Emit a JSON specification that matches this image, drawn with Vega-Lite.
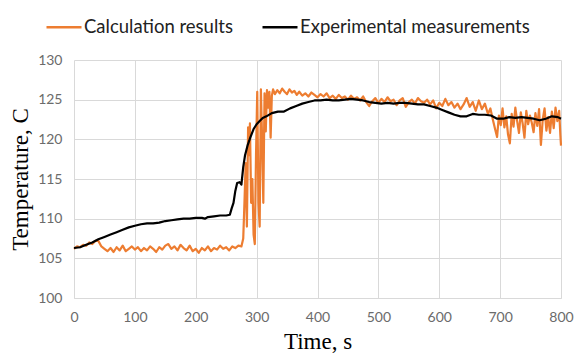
{
  "$schema": "https://vega.github.io/schema/vega-lite/v6.json",
  "width": 487,
  "height": 238,
  "autosize": "none",
  "padding": {"left": 74, "top": 60, "right": 13, "bottom": 56},
  "background": "white",
  "config": {
    "view": {"stroke": null},
    "axis": {
      "gridColor": "#d9d9d9",
      "gridWidth": 1,
      "domainColor": "#d9d9d9",
      "ticks": false,
      "labelFont": "Lato",
      "labelFontSize": 14,
      "labelColor": "#6b6b6b",
      "titleFont": "Liberation Serif",
      "titleFontWeight": "normal",
      "titleFontSize": 23,
      "titleColor": "#000000"
    },
    "legend": {
      "labelFont": "Lato",
      "labelFontSize": 18.5,
      "labelColor": "#222222",
      "labelLimit": 400
    }
  },
  "data": {
    "values": [
      {"series":"Calculation results","t":0,"T":106.2},{"series":"Calculation results","t":5,"T":106.5},{"series":"Calculation results","t":10,"T":106.4},{"series":"Calculation results","t":15,"T":106.7},{"series":"Calculation results","t":20,"T":106.6},{"series":"Calculation results","t":25,"T":107.0},{"series":"Calculation results","t":30,"T":106.8},{"series":"Calculation results","t":35,"T":107.2},{"series":"Calculation results","t":40,"T":107.2},{"series":"Calculation results","t":45,"T":106.5},{"series":"Calculation results","t":50,"T":106.2},{"series":"Calculation results","t":55,"T":105.9},{"series":"Calculation results","t":60,"T":106.3},{"series":"Calculation results","t":65,"T":105.8},{"series":"Calculation results","t":70,"T":106.4},{"series":"Calculation results","t":75,"T":106.0},{"series":"Calculation results","t":80,"T":106.6},{"series":"Calculation results","t":85,"T":105.9},{"series":"Calculation results","t":90,"T":106.2},{"series":"Calculation results","t":95,"T":106.5},{"series":"Calculation results","t":100,"T":106.1},{"series":"Calculation results","t":105,"T":106.4},{"series":"Calculation results","t":110,"T":105.9},{"series":"Calculation results","t":115,"T":106.3},{"series":"Calculation results","t":120,"T":106.0},{"series":"Calculation results","t":125,"T":106.5},{"series":"Calculation results","t":130,"T":106.2},{"series":"Calculation results","t":135,"T":105.8},{"series":"Calculation results","t":140,"T":106.4},{"series":"Calculation results","t":145,"T":106.1},{"series":"Calculation results","t":150,"T":106.6},{"series":"Calculation results","t":155,"T":106.8},{"series":"Calculation results","t":160,"T":106.2},{"series":"Calculation results","t":165,"T":106.5},{"series":"Calculation results","t":170,"T":106.0},{"series":"Calculation results","t":175,"T":106.7},{"series":"Calculation results","t":180,"T":106.3},{"series":"Calculation results","t":185,"T":106.0},{"series":"Calculation results","t":190,"T":106.6},{"series":"Calculation results","t":195,"T":105.9},{"series":"Calculation results","t":200,"T":106.2},{"series":"Calculation results","t":205,"T":105.7},{"series":"Calculation results","t":210,"T":106.3},{"series":"Calculation results","t":215,"T":106.0},{"series":"Calculation results","t":220,"T":106.5},{"series":"Calculation results","t":225,"T":105.9},{"series":"Calculation results","t":230,"T":106.3},{"series":"Calculation results","t":235,"T":106.1},{"series":"Calculation results","t":240,"T":106.6},{"series":"Calculation results","t":245,"T":106.2},{"series":"Calculation results","t":250,"T":106.4},{"series":"Calculation results","t":255,"T":106.0},{"series":"Calculation results","t":260,"T":106.5},{"series":"Calculation results","t":265,"T":106.3},{"series":"Calculation results","t":270,"T":106.6},{"series":"Calculation results","t":275,"T":106.5},{"series":"Calculation results","t":278,"T":107.5},{"series":"Calculation results","t":280,"T":112},{"series":"Calculation results","t":282,"T":117},{"series":"Calculation results","t":284,"T":109},{"series":"Calculation results","t":286,"T":121.5},{"series":"Calculation results","t":288,"T":118},{"series":"Calculation results","t":289,"T":122},{"series":"Calculation results","t":291,"T":112},{"series":"Calculation results","t":293,"T":115},{"series":"Calculation results","t":295,"T":108},{"series":"Calculation results","t":297,"T":106.8},{"series":"Calculation results","t":299,"T":118},{"series":"Calculation results","t":301,"T":126},{"series":"Calculation results","t":303,"T":112},{"series":"Calculation results","t":305,"T":109},{"series":"Calculation results","t":307,"T":126.3},{"series":"Calculation results","t":309,"T":120},{"series":"Calculation results","t":311,"T":112},{"series":"Calculation results","t":313,"T":125.8},{"series":"Calculation results","t":315,"T":121},{"series":"Calculation results","t":317,"T":126.2},{"series":"Calculation results","t":319,"T":124},{"series":"Calculation results","t":321,"T":126},{"series":"Calculation results","t":323,"T":120.2},{"series":"Calculation results","t":325,"T":125.5},{"series":"Calculation results","t":327,"T":126.3},{"series":"Calculation results","t":330,"T":125.7},{"series":"Calculation results","t":334,"T":126.2},{"series":"Calculation results","t":338,"T":125.8},{"series":"Calculation results","t":342,"T":126.4},{"series":"Calculation results","t":346,"T":126.0},{"series":"Calculation results","t":350,"T":125.7},{"series":"Calculation results","t":354,"T":126.3},{"series":"Calculation results","t":358,"T":125.9},{"series":"Calculation results","t":362,"T":126.1},{"series":"Calculation results","t":366,"T":125.6},{"series":"Calculation results","t":370,"T":126.0},{"series":"Calculation results","t":375,"T":125.5},{"series":"Calculation results","t":380,"T":125.8},{"series":"Calculation results","t":385,"T":125.4},{"series":"Calculation results","t":390,"T":125.9},{"series":"Calculation results","t":395,"T":125.6},{"series":"Calculation results","t":400,"T":125.3},{"series":"Calculation results","t":405,"T":125.7},{"series":"Calculation results","t":410,"T":125.4},{"series":"Calculation results","t":415,"T":125.8},{"series":"Calculation results","t":420,"T":125.2},{"series":"Calculation results","t":425,"T":125.5},{"series":"Calculation results","t":430,"T":125.1},{"series":"Calculation results","t":435,"T":125.6},{"series":"Calculation results","t":440,"T":125.2},{"series":"Calculation results","t":445,"T":125.4},{"series":"Calculation results","t":450,"T":125.0},{"series":"Calculation results","t":455,"T":125.5},{"series":"Calculation results","t":460,"T":125.1},{"series":"Calculation results","t":465,"T":125.3},{"series":"Calculation results","t":470,"T":124.9},{"series":"Calculation results","t":475,"T":125.4},{"series":"Calculation results","t":480,"T":124.7},{"series":"Calculation results","t":485,"T":124.2},{"series":"Calculation results","t":490,"T":124.8},{"series":"Calculation results","t":495,"T":125.2},{"series":"Calculation results","t":500,"T":124.6},{"series":"Calculation results","t":505,"T":125.1},{"series":"Calculation results","t":510,"T":124.7},{"series":"Calculation results","t":515,"T":125.3},{"series":"Calculation results","t":520,"T":124.8},{"series":"Calculation results","t":525,"T":125.0},{"series":"Calculation results","t":530,"T":124.3},{"series":"Calculation results","t":535,"T":124.9},{"series":"Calculation results","t":540,"T":125.2},{"series":"Calculation results","t":545,"T":124.1},{"series":"Calculation results","t":550,"T":124.7},{"series":"Calculation results","t":555,"T":125.0},{"series":"Calculation results","t":560,"T":124.5},{"series":"Calculation results","t":565,"T":125.2},{"series":"Calculation results","t":570,"T":124.8},{"series":"Calculation results","t":575,"T":124.6},{"series":"Calculation results","t":580,"T":125.0},{"series":"Calculation results","t":585,"T":124.4},{"series":"Calculation results","t":590,"T":124.9},{"series":"Calculation results","t":595,"T":123.9},{"series":"Calculation results","t":600,"T":124.6},{"series":"Calculation results","t":605,"T":124.2},{"series":"Calculation results","t":610,"T":125.1},{"series":"Calculation results","t":615,"T":124.3},{"series":"Calculation results","t":620,"T":124.7},{"series":"Calculation results","t":625,"T":124.0},{"series":"Calculation results","t":630,"T":124.5},{"series":"Calculation results","t":635,"T":123.8},{"series":"Calculation results","t":640,"T":124.4},{"series":"Calculation results","t":645,"T":125.2},{"series":"Calculation results","t":650,"T":124.1},{"series":"Calculation results","t":655,"T":124.7},{"series":"Calculation results","t":660,"T":123.6},{"series":"Calculation results","t":665,"T":124.9},{"series":"Calculation results","t":670,"T":123.8},{"series":"Calculation results","t":675,"T":124.5},{"series":"Calculation results","t":680,"T":123.2},{"series":"Calculation results","t":684,"T":123.9},{"series":"Calculation results","t":688,"T":122.5},{"series":"Calculation results","t":692,"T":121.2},{"series":"Calculation results","t":695,"T":120.3},{"series":"Calculation results","t":698,"T":123.0},{"series":"Calculation results","t":701,"T":121.8},{"series":"Calculation results","t":704,"T":123.9},{"series":"Calculation results","t":707,"T":121.5},{"series":"Calculation results","t":710,"T":122.9},{"series":"Calculation results","t":713,"T":120.6},{"series":"Calculation results","t":716,"T":119.5},{"series":"Calculation results","t":719,"T":123.2},{"series":"Calculation results","t":722,"T":121.6},{"series":"Calculation results","t":725,"T":124.0},{"series":"Calculation results","t":728,"T":122.3},{"series":"Calculation results","t":731,"T":120.8},{"series":"Calculation results","t":734,"T":123.4},{"series":"Calculation results","t":737,"T":122.0},{"series":"Calculation results","t":740,"T":120.2},{"series":"Calculation results","t":743,"T":123.6},{"series":"Calculation results","t":746,"T":121.9},{"series":"Calculation results","t":749,"T":123.0},{"series":"Calculation results","t":752,"T":122.1},{"series":"Calculation results","t":755,"T":120.9},{"series":"Calculation results","t":758,"T":123.3},{"series":"Calculation results","t":761,"T":121.7},{"series":"Calculation results","t":764,"T":123.8},{"series":"Calculation results","t":767,"T":119.3},{"series":"Calculation results","t":770,"T":122.5},{"series":"Calculation results","t":773,"T":123.9},{"series":"Calculation results","t":776,"T":121.1},{"series":"Calculation results","t":779,"T":122.8},{"series":"Calculation results","t":782,"T":120.8},{"series":"Calculation results","t":785,"T":123.5},{"series":"Calculation results","t":788,"T":121.4},{"series":"Calculation results","t":791,"T":124.0},{"series":"Calculation results","t":794,"T":122.3},{"series":"Calculation results","t":797,"T":123.6},{"series":"Calculation results","t":799,"T":120.5},{"series":"Calculation results","t":800,"T":119.2},
      {"series":"Experimental measurements","t":0,"T":106.3},{"series":"Experimental measurements","t":10,"T":106.4},{"series":"Experimental measurements","t":20,"T":106.7},{"series":"Experimental measurements","t":30,"T":107.0},{"series":"Experimental measurements","t":40,"T":107.4},{"series":"Experimental measurements","t":50,"T":107.7},{"series":"Experimental measurements","t":60,"T":108.0},{"series":"Experimental measurements","t":70,"T":108.3},{"series":"Experimental measurements","t":80,"T":108.6},{"series":"Experimental measurements","t":90,"T":108.9},{"series":"Experimental measurements","t":100,"T":109.1},{"series":"Experimental measurements","t":110,"T":109.3},{"series":"Experimental measurements","t":120,"T":109.4},{"series":"Experimental measurements","t":130,"T":109.4},{"series":"Experimental measurements","t":140,"T":109.5},{"series":"Experimental measurements","t":150,"T":109.7},{"series":"Experimental measurements","t":160,"T":109.8},{"series":"Experimental measurements","t":170,"T":109.9},{"series":"Experimental measurements","t":180,"T":110.0},{"series":"Experimental measurements","t":190,"T":110.0},{"series":"Experimental measurements","t":200,"T":110.1},{"series":"Experimental measurements","t":210,"T":110.1},{"series":"Experimental measurements","t":215,"T":110.0},{"series":"Experimental measurements","t":220,"T":110.2},{"series":"Experimental measurements","t":230,"T":110.3},{"series":"Experimental measurements","t":240,"T":110.4},{"series":"Experimental measurements","t":250,"T":110.4},{"series":"Experimental measurements","t":256,"T":110.5},{"series":"Experimental measurements","t":259,"T":111.3},{"series":"Experimental measurements","t":262,"T":112.0},{"series":"Experimental measurements","t":265,"T":113.5},{"series":"Experimental measurements","t":268,"T":114.5},{"series":"Experimental measurements","t":272,"T":114.6},{"series":"Experimental measurements","t":275,"T":114.3},{"series":"Experimental measurements","t":278,"T":116.5},{"series":"Experimental measurements","t":281,"T":118.0},{"series":"Experimental measurements","t":285,"T":119.2},{"series":"Experimental measurements","t":290,"T":120.3},{"series":"Experimental measurements","t":295,"T":121.3},{"series":"Experimental measurements","t":300,"T":121.9},{"series":"Experimental measurements","t":305,"T":122.3},{"series":"Experimental measurements","t":310,"T":122.7},{"series":"Experimental measurements","t":316,"T":122.9},{"series":"Experimental measurements","t":325,"T":123.3},{"series":"Experimental measurements","t":335,"T":123.5},{"series":"Experimental measurements","t":345,"T":123.5},{"series":"Experimental measurements","t":355,"T":123.9},{"series":"Experimental measurements","t":365,"T":124.2},{"series":"Experimental measurements","t":375,"T":124.5},{"series":"Experimental measurements","t":385,"T":124.7},{"series":"Experimental measurements","t":395,"T":124.9},{"series":"Experimental measurements","t":405,"T":124.9},{"series":"Experimental measurements","t":415,"T":125.0},{"series":"Experimental measurements","t":425,"T":124.9},{"series":"Experimental measurements","t":435,"T":124.9},{"series":"Experimental measurements","t":445,"T":125.0},{"series":"Experimental measurements","t":455,"T":125.1},{"series":"Experimental measurements","t":465,"T":125.0},{"series":"Experimental measurements","t":475,"T":124.9},{"series":"Experimental measurements","t":485,"T":124.7},{"series":"Experimental measurements","t":495,"T":124.6},{"series":"Experimental measurements","t":505,"T":124.5},{"series":"Experimental measurements","t":515,"T":124.6},{"series":"Experimental measurements","t":525,"T":124.5},{"series":"Experimental measurements","t":535,"T":124.6},{"series":"Experimental measurements","t":545,"T":124.6},{"series":"Experimental measurements","t":555,"T":124.5},{"series":"Experimental measurements","t":565,"T":124.4},{"series":"Experimental measurements","t":575,"T":124.4},{"series":"Experimental measurements","t":585,"T":124.2},{"series":"Experimental measurements","t":595,"T":124.0},{"series":"Experimental measurements","t":605,"T":123.7},{"series":"Experimental measurements","t":615,"T":123.4},{"series":"Experimental measurements","t":625,"T":123.1},{"series":"Experimental measurements","t":635,"T":122.9},{"series":"Experimental measurements","t":645,"T":122.9},{"series":"Experimental measurements","t":655,"T":123.2},{"series":"Experimental measurements","t":665,"T":123.1},{"series":"Experimental measurements","t":675,"T":123.1},{"series":"Experimental measurements","t":685,"T":123.0},{"series":"Experimental measurements","t":695,"T":122.6},{"series":"Experimental measurements","t":705,"T":122.6},{"series":"Experimental measurements","t":715,"T":122.8},{"series":"Experimental measurements","t":725,"T":122.7},{"series":"Experimental measurements","t":735,"T":122.8},{"series":"Experimental measurements","t":745,"T":122.7},{"series":"Experimental measurements","t":755,"T":122.6},{"series":"Experimental measurements","t":765,"T":122.4},{"series":"Experimental measurements","t":775,"T":122.6},{"series":"Experimental measurements","t":785,"T":122.9},{"series":"Experimental measurements","t":795,"T":122.8},{"series":"Experimental measurements","t":800,"T":122.6}
    ]
  },
  "mark": {"type": "line", "strokeWidth": 2.2, "strokeJoin": "round"},
  "encoding": {
    "x": {
      "field": "t", "type": "quantitative", "title": "Time, s",
      "scale": {"domain": [0, 800], "nice": false},
      "axis": {"values": [0,100,200,300,400,500,600,700,800], "labelPadding": 12, "titlePadding": 6, "labelFlush": false}
    },
    "y": {
      "field": "T", "type": "quantitative", "title": "Temperature, C",
      "scale": {"domain": [100, 130], "nice": false, "zero": false},
      "axis": {"values": [100,105,110,115,120,125,130], "labelPadding": 12, "titlePadding": 5, "domain": false, "labelFlush": false}
    },
    "color": {
      "field": "series", "type": "nominal",
      "scale": {"domain": ["Calculation results", "Experimental measurements"], "range": ["#ED7D31", "#000000"]},
      "legend": {
        "title": null, "orient": "none", "direction": "horizontal",
        "legendX": -29, "legendY": -52,
        "symbolType": "stroke", "symbolSize": 1225, "symbolStrokeWidth": 2.5,
        "labelOffset": 1, "columnPadding": 24
      }
    }
  }
}
